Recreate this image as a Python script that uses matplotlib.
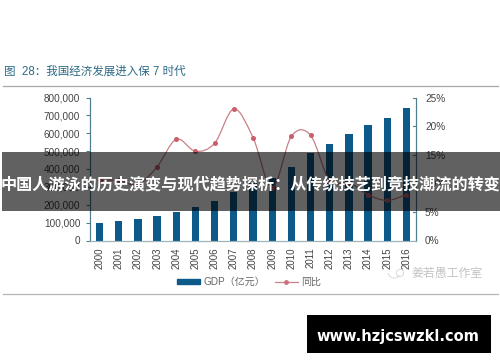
import numpy as np
import matplotlib
matplotlib.use("Agg")
import matplotlib.pyplot as plt
from matplotlib.lines import Line2D
from matplotlib.patches import Patch, PathPatch, Rectangle, Circle, Arc
from matplotlib.path import Path

plt.rcParams["font.family"] = ["Liberation Sans", "Noto Sans CJK SC", "DejaVu Sans"]

years = [str(y) for y in range(2000, 2017)]
gdp = [100000, 110000, 121000, 137000, 162000, 187000, 219000, 270000, 319000,
       349000, 413000, 489000, 540000, 595000, 644000, 685000, 744000]
growth = [10.6, 10.5, 9.8, 12.9, 17.7, 15.6, 17.0, 23.0, 18.0,
          9.2, 18.2, 18.4, 10.4, 10.1, 8.0, 7.0, 8.0]
left_ticks = [0, 100000, 200000, 300000, 400000, 500000, 600000, 700000, 800000]
right_ticks = [0, 5, 10, 15, 20, 25]

W, H = 500, 362
NAVY = "#0b5a8a"
AXIS = "#4f7f8f"
LINE = "#c98088"
TXT = "#444444"

fig = plt.figure(figsize=(W / 100, H / 100), dpi=100)
ax = fig.add_axes([90 / W, 1 - 240.5 / H, 326 / W, 143 / H])
ax.set_zorder(1)

x = np.arange(len(years))
ax.bar(x, gdp, width=0.38, color=NAVY)
ax.set_xlim(-0.5, 16.5)
ax.set_ylim(0, 800000)
ax.set_yticks(left_ticks)
ax.set_yticklabels([f"{v:,}" for v in left_ticks], fontsize=7.2, color=TXT)
ax.set_xticks(x)
ax.set_xticklabels(years, rotation=90, fontsize=7, color=TXT)
ax.tick_params(axis="y", length=3, width=0.8, color=AXIS, pad=4)
ax.tick_params(axis="x", length=0, pad=5)
ax.spines["top"].set_visible(False)
ax.spines["left"].set_color(AXIS)
ax.spines["bottom"].set_color("#9db4bd")
ax.spines["right"].set_color(AXIS)

ax2 = ax.twinx()
ax2.set_ylim(0, 25)
ax2.set_yticks(right_ticks)
ax2.set_yticklabels([f"{v}%" for v in right_ticks], fontsize=7.2, color=TXT)
ax2.tick_params(axis="y", length=0, pad=6.5)
ax2.spines["top"].set_visible(False)
ax2.spines["left"].set_color(AXIS)
ax2.spines["right"].set_color(AXIS)
ax2.spines["bottom"].set_color("#9db4bd")
# right axis ticks point inwards in the reference
for v in right_ticks:
    ax2.plot([16.35, 16.5], [v, v], color=AXIS, lw=0.8)

# smooth line through the points, like excel does it
g = np.array(growth)
slope = np.gradient(g)
verts = [(x[0], g[0])]
codes = [Path.MOVETO]
for i in range(len(x) - 1):
    verts += [(x[i] + 1 / 3, g[i] + slope[i] / 3),
              (x[i + 1] - 1 / 3, g[i + 1] - slope[i + 1] / 3),
              (x[i + 1], g[i + 1])]
    codes += [Path.CURVE4] * 3
ax2.add_patch(PathPatch(Path(verts, codes), fill=False, edgecolor=LINE, lw=0.9))
ax2.plot(x, growth, ls="none", marker="o", ms=2.6, color="#c8606c")

ax.legend(handles=[Patch(color=NAVY, label="GDP（亿元）"),
                   Line2D([0], [0], color=LINE, lw=0.9, marker="o", ms=2.6,
                          markerfacecolor="#c8606c", label="同比")],
          loc="center", bbox_to_anchor=((249 - 90) / 326, (240.5 - 282) / 143),
          ncol=2, frameon=False, fontsize=7.2, labelcolor="#666666",
          handlelength=2.3, handleheight=0.5, columnspacing=1.0, handletextpad=0.3,
          borderpad=0)

# page furniture, in pixel coords
page = fig.add_axes([0, 0, 1, 1], zorder=5)
page.set_xlim(0, W)
page.set_ylim(H, 0)
page.axis("off")
page.text(4, 72, "图  28：我国经济发展进入保 7 时代", fontsize=8.3, color="#2b6a85",
          va="center")
page.plot([3, 498], [85.5, 85.5], color="#a8a8a8", lw=0.9)
page.plot([3, 498], [294, 294], color="#b5b5b5", lw=0.9)

# watermark
page.text(447, 274, "姜若愚工作室", fontsize=8.6, color="#c4c4c4", ha="center", va="center")
page.add_patch(Circle((400, 273), 3.6, fill=False, ec="#dadada", lw=0.7))
page.add_patch(Arc((394, 272), 12, 12, theta1=30, theta2=170, ec="#dadada", lw=0.7))

page.add_patch(Rectangle((2, 152), 498, 59, color="black", alpha=0.62, lw=0))
page.text(250.5, 184.5, "中国人游泳的历史演变与现代趋势探析：从传统技艺到竞技潮流的转变",
          fontsize=11.6, color="white", fontweight="bold", ha="center", va="center",
          family=["Noto Sans CJK SC", "DejaVu Sans"])

page.add_patch(Rectangle((307, 315), 184, 38, color="black", lw=0))
page.text(398, 336.5, "www.hzjcswzkl.com", fontsize=10.5, color="white",
          fontweight="bold", ha="center", va="center", family="DejaVu Sans")

fig.savefig("out.png", dpi=100)
